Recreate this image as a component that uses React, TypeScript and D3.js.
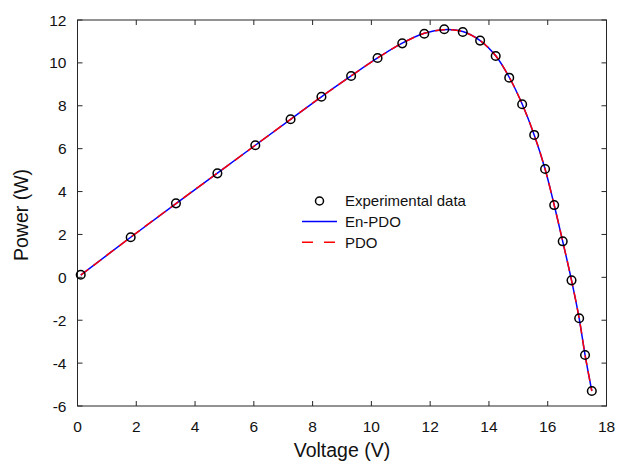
import React from "react";
import * as d3 from "d3";

const voltage = [0.11, 1.81, 3.35, 4.76, 6.05, 7.25, 8.3, 9.31, 10.21, 11.05, 11.8, 12.48, 13.11, 13.7, 14.23, 14.69, 15.13, 15.54, 15.91, 16.22, 16.51, 16.81, 17.07, 17.27, 17.5];
const expPower = [0.12, 1.87, 3.45, 4.85, 6.16, 7.37, 8.42, 9.39, 10.23, 10.91, 11.36, 11.57, 11.44, 11.04, 10.32, 9.31, 8.07, 6.64, 5.05, 3.37, 1.68, -0.14, -1.91, -3.62, -5.3];
const enPdoPower = [0.1, 1.87, 3.44, 4.86, 6.16, 7.37, 8.42, 9.39, 10.23, 10.92, 11.38, 11.55, 11.46, 11.04, 10.33, 9.33, 8.08, 6.64, 5.05, 3.37, 1.68, -0.14, -1.91, -3.62, -5.3];
const pdoPower = [0.1, 1.87, 3.44, 4.86, 6.16, 7.37, 8.42, 9.39, 10.23, 10.92, 11.38, 11.55, 11.46, 11.04, 10.33, 9.33, 8.08, 6.64, 5.05, 3.37, 1.68, -0.14, -1.91, -3.62, -5.3];
const xTicks = [0, 2, 4, 6, 8, 10, 12, 14, 16, 18];
const yTicks = [-6, -4, -2, 0, 2, 4, 6, 8, 10, 12];
const legendLabels = ["Experimental data", "En-PDO", "PDO"];

const W = 617;
const H = 465;
const L = 77.5, R = 606.5, T = 20, B = 406;
const axisColor = "#262626";
const font = "Arial, 'Liberation Sans', Helvetica, sans-serif";

export default function App() {
  const x = d3.scaleLinear().domain([0, 18]).range([L, R]);
  const y = d3.scaleLinear().domain([-6, 12]).range([B, T]);
  const line = d3
    .line<number>()
    .x((_, i) => x(voltage[i]))
    .y((d) => y(d))
    .curve(d3.curveCatmullRom.alpha(0.5));
  const tick = 5;
  const lx = 319.5;
  const ly = 201;
  const dy = 20.6;
  return (
    <svg width={W} height={H} style={{ position: "absolute", left: 0, top: 0, background: "#fff" }}>
      <rect x={0} y={0} width={W} height={H} fill="#fff" />
      <g fill="none" stroke={axisColor} strokeWidth={1}>
        <rect x={L} y={T} width={R - L} height={B - T} />
        {xTicks.map((t) => (
          <g key={"xt" + t}>
            <line x1={x(t)} x2={x(t)} y1={B} y2={B - tick} />
            <line x1={x(t)} x2={x(t)} y1={T} y2={T + tick} />
          </g>
        ))}
        {yTicks.map((t) => (
          <g key={"yt" + t}>
            <line x1={L} x2={L + tick} y1={y(t)} y2={y(t)} />
            <line x1={R} x2={R - tick} y1={y(t)} y2={y(t)} />
          </g>
        ))}
      </g>
      <g fontFamily={font} fontSize={15.5} fill="#111">
        {xTicks.map((t) => (
          <text key={"xl" + t} x={x(t)} y={432} textAnchor="middle">{t}</text>
        ))}
        {yTicks.map((t) => (
          <text key={"yl" + t} x={66.5} y={y(t) + 5.5} textAnchor="end">{t}</text>
        ))}
      </g>
      <text x={(L + R) / 2} y={457} textAnchor="middle" fontFamily={font} fontSize={19.5} fill="#111">Voltage (V)</text>
      <text transform={`translate(27.5,${(T + B) / 2 + 2}) rotate(-90)`} textAnchor="middle" fontFamily={font} fontSize={19.5} fill="#111">Power (W)</text>
      <path d={line(enPdoPower) || ""} fill="none" stroke="#0000ff" strokeWidth={1.5} />
      <path d={line(pdoPower) || ""} fill="none" stroke="#ff0000" strokeWidth={1.5} strokeDasharray="10,6" />
      {voltage.map((v, i) => (
        <circle key={"c" + i} cx={x(v)} cy={y(expPower[i])} r={4.3} fill="none" stroke="#000" strokeWidth={1.5} />
      ))}
      <g fontFamily={font} fontSize={15} fill="#111">
        <circle cx={lx} cy={ly} r={4} fill="none" stroke="#000" strokeWidth={1.5} />
        <text x={345} y={ly + 5.3}>{legendLabels[0]}</text>
        <line x1={302} x2={337} y1={ly + dy} y2={ly + dy} stroke="#0000ff" strokeWidth={1.5} />
        <text x={345} y={ly + dy + 5.3}>{legendLabels[1]}</text>
        <line x1={302} x2={337} y1={ly + 2 * dy} y2={ly + 2 * dy} stroke="#ff0000" strokeWidth={1.5} strokeDasharray="11,11" />
        <text x={345} y={ly + 2 * dy + 5.3}>{legendLabels[2]}</text>
      </g>
    </svg>
  );
}
